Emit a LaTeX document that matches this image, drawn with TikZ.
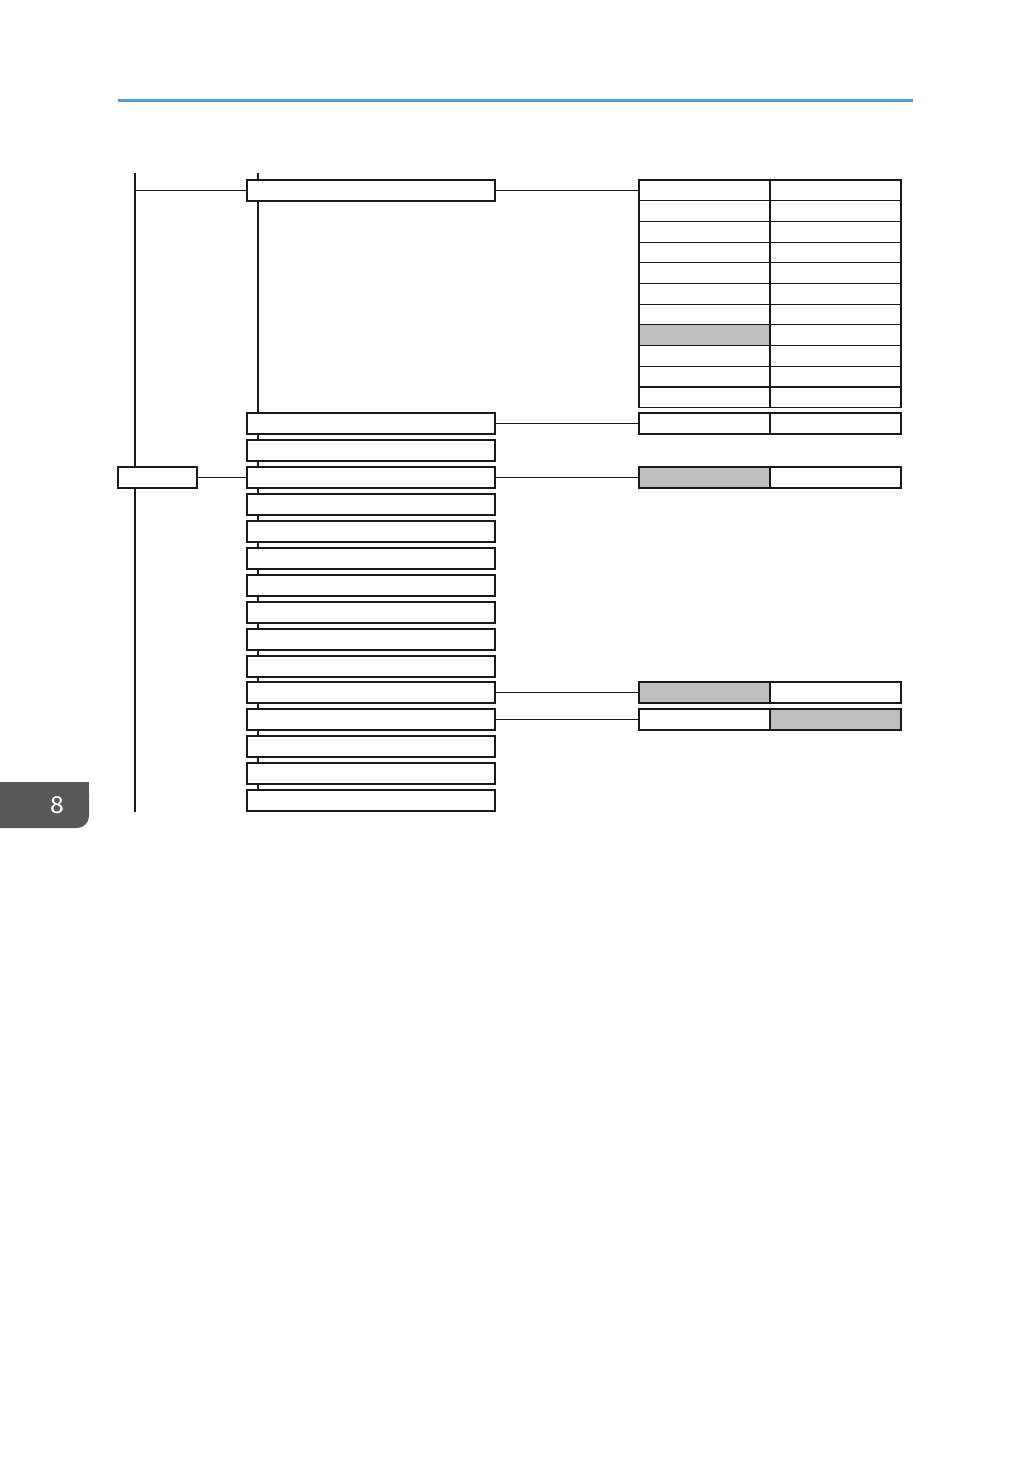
\documentclass[tikz,border=0pt]{standalone}
\usepackage{fontspec}
\setsansfont{Fira Sans}
\definecolor{topblue}{HTML}{5B9BD5}
\definecolor{cellgray}{HTML}{BEBEBE}
\definecolor{tabgray}{HTML}{58585A}
\begin{document}
\begin{tikzpicture}[x=1pt,y=-1pt,
  line/.style={line width=1.1pt,black!90},
  menubox/.style={draw=black!90,line width=1.1pt,fill=white,minimum width=248pt,minimum height=21pt,inner sep=0pt,outer sep=0pt,anchor=north west},
  cellw/.style={draw=black!90,line width=1.1pt,fill=white,minimum width=131pt,minimum height=20.7pt,inner sep=0pt,outer sep=0pt,anchor=north west},
  cellg/.style={cellw,fill=cellgray}]
\useasboundingbox (0,0) rectangle (1032,1457);
\fill[topblue] (118,98.5) rectangle (913,101.5);
% tab
\fill[tabgray,rounded corners=12pt] (-20,782) rectangle (89,828);
\fill[tabgray] (-20,782) rectangle (89,795);
\node[text=white,font=\sffamily\fontsize{25}{25}\selectfont] (tab) at (57,805) {8};
% verticals
\coordinate (v1t) at (135,173);
\coordinate (v1b) at (135,812);
\coordinate (v2t) at (258,173);
\coordinate (v2b) at (258,795);
\draw[line] (v1t) -- (v1b);
\draw[line] (v2t) -- (v2b);
% main boxes
\foreach \i/\y in {1/180,2/413,3/440,4/467,5/494,6/521,7/548,8/575,9/602,10/629,11/656,12/682,13/709,14/736,15/763,16/790}{
  \node[menubox] (m\i) at (247,\y) {};
}
\draw[line] (m1.west -| v1t) -- (m1.west);
% left box
\node[draw=black!90,line width=1.1pt,fill=white,minimum width=79pt,minimum height=21pt,inner sep=0pt,outer sep=0pt,anchor=north west] (root) at (118,467) {};
\draw[line] (root.east) -- (m4.west);
% table for m1
\foreach \r in {0,...,10}{
  \pgfmathsetmacro{\yy}{180+\r*20.7}
  \ifnum\r=7
    \node[cellg] (a\r) at (639,\yy) {};
  \else
    \node[cellw] (a\r) at (639,\yy) {};
  \fi
  \node[cellw] (b\r) at (770,\yy) {};
}
\draw[line] (m1.east) -- (m1.east -| a0.west);
% table for m2
\node[cellw,minimum height=21pt] (c1) at (639,413) {};
\node[cellw,minimum height=21pt] (c2) at (770,413) {};
\draw[line] (m2.east) -- (c1.west);
% table for m4
\node[cellg,minimum height=21pt] (d1) at (639,467) {};
\node[cellw,minimum height=21pt] (d2) at (770,467) {};
\draw[line] (m4.east) -- (d1.west);
% table for m12
\node[cellg,minimum height=21pt] (e1) at (639,682) {};
\node[cellw,minimum height=21pt] (e2) at (770,682) {};
\draw[line] (m12.east) -- (e1.west);
% table for m13
\node[cellw,minimum height=21pt] (f1) at (639,709) {};
\node[cellg,minimum height=21pt] (f2) at (770,709) {};
\draw[line] (m13.east) -- (f1.west);
\end{tikzpicture}
\end{document}
